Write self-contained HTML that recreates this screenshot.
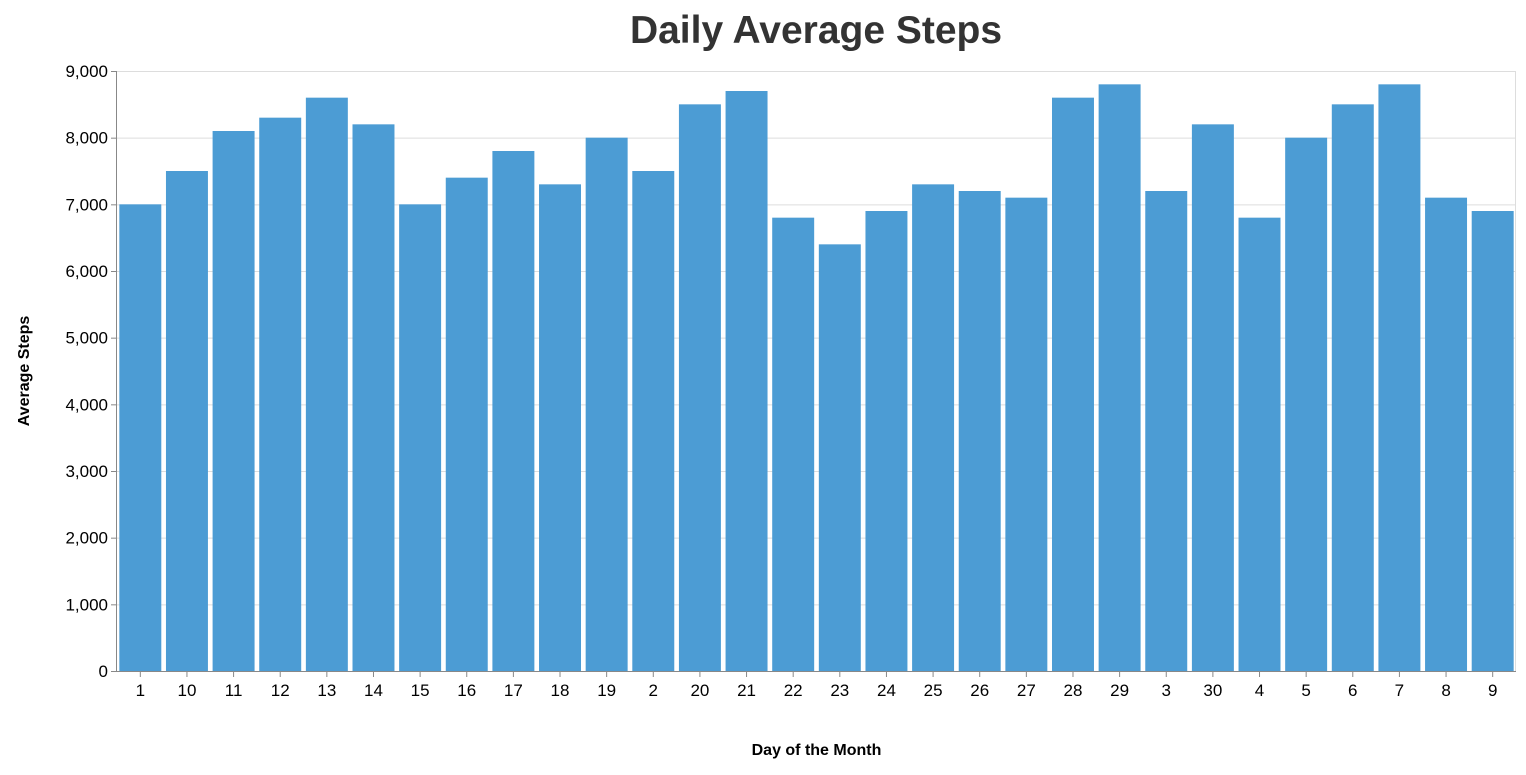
<!DOCTYPE html>
<html><head><meta charset="utf-8"><style>
body{margin:0;background:#fff;font-family:"Liberation Sans",Arial,sans-serif}
</style></head><body>
<svg id="chart" width="1526" height="770" xmlns="http://www.w3.org/2000/svg" font-family="Liberation Sans, Arial, sans-serif"></svg>
<script>
const categories=["1","10","11","12","13","14","15","16","17","18","19","2","20","21","22","23","24","25","26","27","28","29","3","30","4","5","6","7","8","9"];
const values=[7000,7500,8100,8300,8600,8200,7000,7400,7800,7300,8000,7500,8500,8700,6800,6400,6900,7300,7200,7100,8600,8800,7200,8200,6800,8000,8500,8800,7100,6900];
const yTicks=[0,1000,2000,3000,4000,5000,6000,7000,8000,9000];
const yTickLabels=["0","1,000","2,000","3,000","4,000","5,000","6,000","7,000","8,000","9,000"];
const NS="http://www.w3.org/2000/svg";
const svg=document.getElementById('chart');
const L=117,R=1516,T=71,B=671,yMax=9000;
const band=(R-L)/categories.length,pad=0.1;
const x=i=>L+i*band+band*pad/2;
const y=v=>B-(v/yMax)*(B-T);
function mk(tag,attrs,parent){const e=document.createElementNS(NS,tag);for(const k in attrs)e.setAttribute(k,attrs[k]);(parent||svg).appendChild(e);return e;}
const grid=mk('g',{});


yTicks.forEach((t,i)=>{
 mk('line',{x1:L,x2:R,y1:y(t)+0.5,y2:y(t)+0.5,stroke:'#ddd'},grid);
});
mk('line',{x1:R-0.5,x2:R-0.5,y1:T,y2:B,stroke:'#ddd'},grid);
const bars=mk('g',{});


values.forEach((v,i)=>{
 const r=mk('rect',{x:x(i),y:y(v),width:band*(1-pad),height:B-y(v),fill:'#4c9cd4'},bars);
 
 
});
const yax=mk('g',{});


mk('line',{x1:L-0.5,x2:L-0.5,y1:T,y2:B,stroke:'#888'},yax);
yTicks.forEach((t,i)=>{
 mk('line',{x1:L-6,x2:L,y1:y(t)+0.5,y2:y(t)+0.5,stroke:'#888'},yax);
 const tx=mk('text',{x:L-9,y:y(t)+6,'text-anchor':'end','font-size':17,fill:'#000'},yax);
 tx.textContent=yTickLabels[i];
 
 
});
const xax=mk('g',{});


mk('line',{x1:L,x2:R,y1:B+0.5,y2:B+0.5,stroke:'#888'},xax);
categories.forEach((c,i)=>{
 const cx=L+i*band+band/2;
 mk('line',{x1:cx,x2:cx,y1:B,y2:B+6,stroke:'#888'},xax);
 const tx=mk('text',{x:cx,y:B+25,'text-anchor':'middle','font-size':17,fill:'#000'},xax);
 tx.textContent=c;
 
 
});
const xt=mk('text',{x:(L+R)/2,y:755,'text-anchor':'middle','font-size':16,'font-weight':'bold',fill:'#000'});
xt.textContent='Day of the Month';


const yt=mk('text',{x:0,y:0,'text-anchor':'middle','font-size':16,'font-weight':'bold',fill:'#000',transform:'translate(29,'+((T+B)/2)+') rotate(-90)'});
yt.textContent='Average Steps';


const title=mk('text',{x:816,y:43,'text-anchor':'middle','font-size':39,'font-weight':'bold',fill:'#333'});
title.textContent='Daily Average Steps';


</script>
</body></html>
